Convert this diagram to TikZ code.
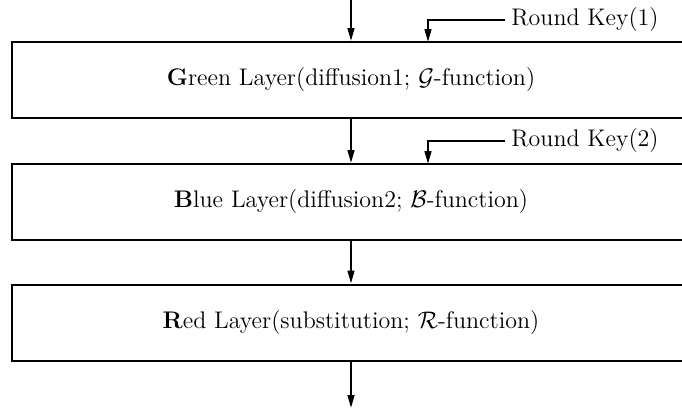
\documentclass[tikz,border=0pt]{standalone}
\usetikzlibrary{arrows.meta}
\begin{document}
\begin{tikzpicture}[x=0.5pt,y=-0.5pt,
  layer/.style={draw,line width=1pt,minimum width=339pt,minimum height=38pt,inner sep=0pt,font=\fontsize{12}{14}\selectfont},
  arr/.style={line width=1pt,-{Stealth[length=6.5pt,width=3.4pt,inset=0pt]}},
  keytxt/.style={inner sep=3pt,anchor=west,font=\fontsize{12}{14}\selectfont}]
\clip (0,0) rectangle (682,413);
\node[layer] (g) at (351,80) {\textbf{G}reen Layer(diffusion1; $\mathcal{G}$-function)};
\node[layer] (b) at (351,202) {\textbf{B}lue Layer(diffusion2; $\mathcal{B}$-function)};
\node[layer] (r) at (351,322.5) {\textbf{R}ed Layer(substitution; $\mathcal{R}$-function)};
\coordinate (top) at (351,-5);
\coordinate (bot) at (351,408);
\draw[arr] (top) -- (g.north);
\draw[arr] (g.south) -- (b.north);
\draw[arr] (b.south) -- (r.north);
\draw[arr] (r.south) -- (bot);
\node[keytxt] (k1) at (505,20) {Round Key(1)};
\node[keytxt] (k2) at (505,141) {Round Key(2)};
\coordinate (t1) at (428,42);
\coordinate (t2) at (428,164);
\draw[arr] (k1.west) -| (t1);
\draw[arr] (k2.west) -| (t2);
\end{tikzpicture}
\end{document}
